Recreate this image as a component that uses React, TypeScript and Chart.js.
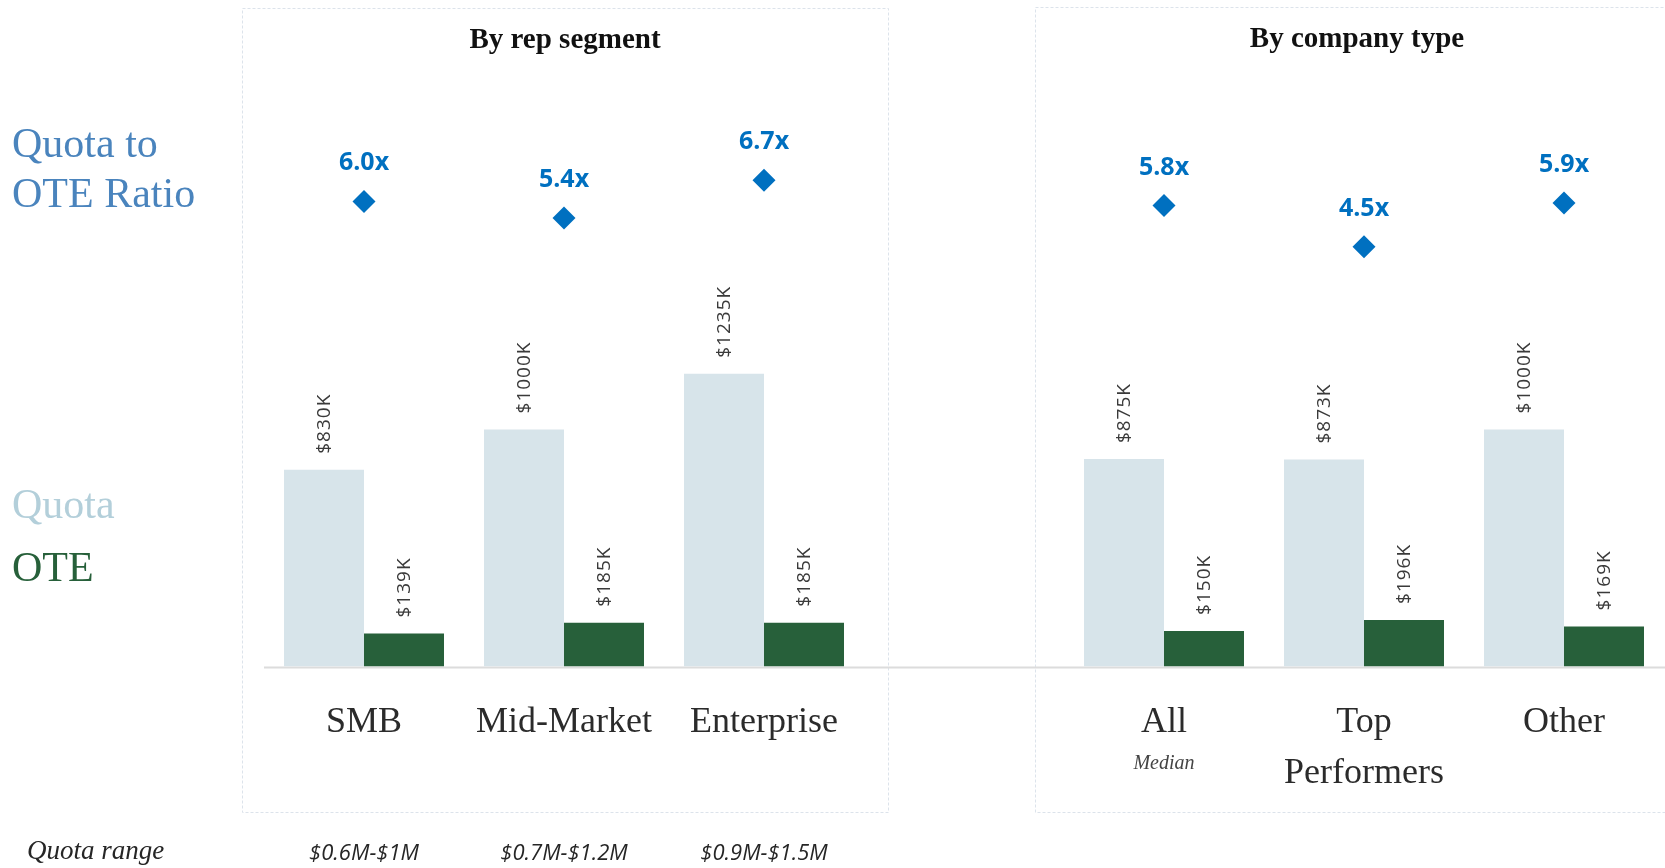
import React, { useEffect, useRef } from "react";
import { Chart, registerables } from "chart.js";

Chart.register(...registerables);

// ---- data ----
const categories = ["SMB", "Mid-Market", "Enterprise", "", "All", "Top Performers", "Other"];
const categoryLines = [["SMB"], ["Mid-Market"], ["Enterprise"], [], ["All"], ["Top", "Performers"], ["Other"]];
const subNotes = ["", "", "", "", "Median", "", ""];
const quotaK = [830, 1000, 1235, null, 875, 873, 1000];
const oteK = [139, 185, 185, null, 150, 196, 169];
const ratio = [5.97, 5.41, 6.68, null, 5.83, 4.45, 5.92];
const quotaRanges = ["$0.6M-$1M", "$0.7M-$1.2M", "$0.9M-$1.5M", "", "", "", ""];
const panelTitles = ["By rep segment", "By company type"];
const sideTitle = ["Quota to", "OTE Ratio"];
const legendQuota = "Quota";
const legendOTE = "OTE";
const rangeTitle = "Quota range";

const QUOTA_COLOR = "#D7E4EA";
const OTE_COLOR = "#27603A";
const RATIO_COLOR = "#0070C0";

const overlay = {
  id: "overlay",
  beforeDatasetsDraw(chart: any) {
    const ctx = chart.ctx;
    ctx.save();
    // dashed panels
    ctx.strokeStyle = "#DCE3EB";
    ctx.lineWidth = 1;
    ctx.setLineDash([3, 2]);
    ctx.strokeRect(242.5, 8.5, 646, 804);
    ctx.strokeRect(1035.5, 7.5, 700, 805);
    ctx.setLineDash([]);
    // baseline
    ctx.strokeStyle = "#DCDCDC";
    ctx.lineWidth = 2;
    ctx.beginPath();
    ctx.moveTo(264, 667.5);
    ctx.lineTo(1665, 667.5);
    ctx.stroke();
    ctx.restore();
  },
  afterDatasetsDraw(chart: any) {
    const ctx = chart.ctx;
    const xs = chart.scales.x;
    ctx.save();

    // bar value labels (rotated)
    [quotaK, oteK].forEach((arr, di) => {
      const meta = chart.getDatasetMeta(di);
      arr.forEach((v, i) => {
        if (v == null) return;
        const el = meta.data[i];
        ctx.save();
        ctx.translate(el.x + 1, el.y - 16);
        ctx.rotate(-Math.PI / 2);
        ctx.font = "19px 'Open Sans'";
        (ctx as any).letterSpacing = "1px";
        ctx.fillStyle = "#3A3A3A";
        ctx.textAlign = "left";
        ctx.textBaseline = "middle";
        ctx.fillText(`$${v}K`, 0, 0);
        ctx.restore();
      });
    });

    // ratio labels
    const rmeta = chart.getDatasetMeta(2);
    ratio.forEach((v, i) => {
      if (v == null) return;
      const p = rmeta.data[i];
      ctx.font = "bold 25px 'Open Sans'";
      ctx.fillStyle = RATIO_COLOR;
      ctx.textAlign = "center";
      ctx.textBaseline = "alphabetic";
      ctx.fillText(`${(Math.round(v * 10) / 10).toFixed(1)}x`, p.x, p.y - 31);
    });

    // panel titles
    ctx.font = "bold 29px 'Liberation Serif'";
    ctx.fillStyle = "#111111";
    ctx.textAlign = "center";
    ctx.fillText(panelTitles[0], 565, 48);
    ctx.fillText(panelTitles[1], 1357, 47);

    // category labels
    categoryLines.forEach((lines, i) => {
      const x = xs.getPixelForValue(i);
      ctx.font = "36px 'Liberation Serif'";
      ctx.fillStyle = "#2B2B2B";
      ctx.textAlign = "center";
      lines.forEach((t, li) => ctx.fillText(t, x, 732 + li * 51));
      if (subNotes[i]) {
        ctx.font = "italic 20px 'Liberation Serif'";
        ctx.fillStyle = "#444444";
        ctx.fillText(subNotes[i], x, 769);
      }
      if (quotaRanges[i]) {
        ctx.font = "italic 22px 'Open Sans'";
        ctx.fillStyle = "#262626";
        ctx.fillText(quotaRanges[i], x, 860);
      }
    });

    // side labels
    ctx.textAlign = "left";
    ctx.font = "42px 'Liberation Serif'";
    ctx.fillStyle = "#4A84BD";
    ctx.fillText(sideTitle[0], 12, 157);
    ctx.fillText(sideTitle[1], 12, 207);
    ctx.fillStyle = "#B3CFDA";
    ctx.fillText(legendQuota, 12, 518);
    ctx.fillStyle = OTE_COLOR;
    ctx.fillText(legendOTE, 12, 581);

    ctx.font = "italic 27px 'Liberation Serif'";
    ctx.fillStyle = "#262626";
    ctx.fillText(rangeTitle, 27, 859);

    ctx.restore();
  },
};

export default function App() {
  const ref = useRef<HTMLCanvasElement | null>(null);
  useEffect(() => {
    if (!ref.current) return;
    const chart = new Chart(ref.current, {
      type: "bar",
      data: {
        labels: categories,
        datasets: [
          {
            type: "bar",
            label: "Quota",
            data: quotaK,
            backgroundColor: QUOTA_COLOR,
            yAxisID: "y",
            categoryPercentage: 0.8,
            barPercentage: 1.0,
            order: 2,
          },
          {
            type: "bar",
            label: "OTE",
            data: oteK,
            backgroundColor: OTE_COLOR,
            yAxisID: "y",
            categoryPercentage: 0.8,
            barPercentage: 1.0,
            order: 2,
          },
          {
            type: "line",
            label: "Quota to OTE Ratio",
            data: ratio,
            yAxisID: "y2",
            showLine: false,
            pointStyle: "rectRot",
            pointRadius: 11.5,
            pointBackgroundColor: RATIO_COLOR,
            pointBorderWidth: 0,
            clip: false,
            order: 1,
          },
        ] as any,
      },
      options: {
        animation: false,
        responsive: false,
        maintainAspectRatio: false,
        devicePixelRatio: 1,
        events: [],
        layout: { autoPadding: false, padding: { left: 264, right: 1, top: 0, bottom: 201.5 } },
        plugins: { legend: { display: false }, tooltip: { enabled: false } },
        scales: {
          x: { display: false, offset: true },
          y: { display: false, min: 0, max: 2812 },
          y2: { display: false, min: -9.64, max: 12.73, position: "right" },
        },
      } as any,
      plugins: [overlay],
    });
    return () => chart.destroy();
  }, []);
  return (
    <div style={{ position: "absolute", left: 0, top: 0, width: 1665, height: 868, background: "#fff" }}>
      <canvas ref={ref} width={1665} height={868} style={{ display: "block" }} />
    </div>
  );
}
